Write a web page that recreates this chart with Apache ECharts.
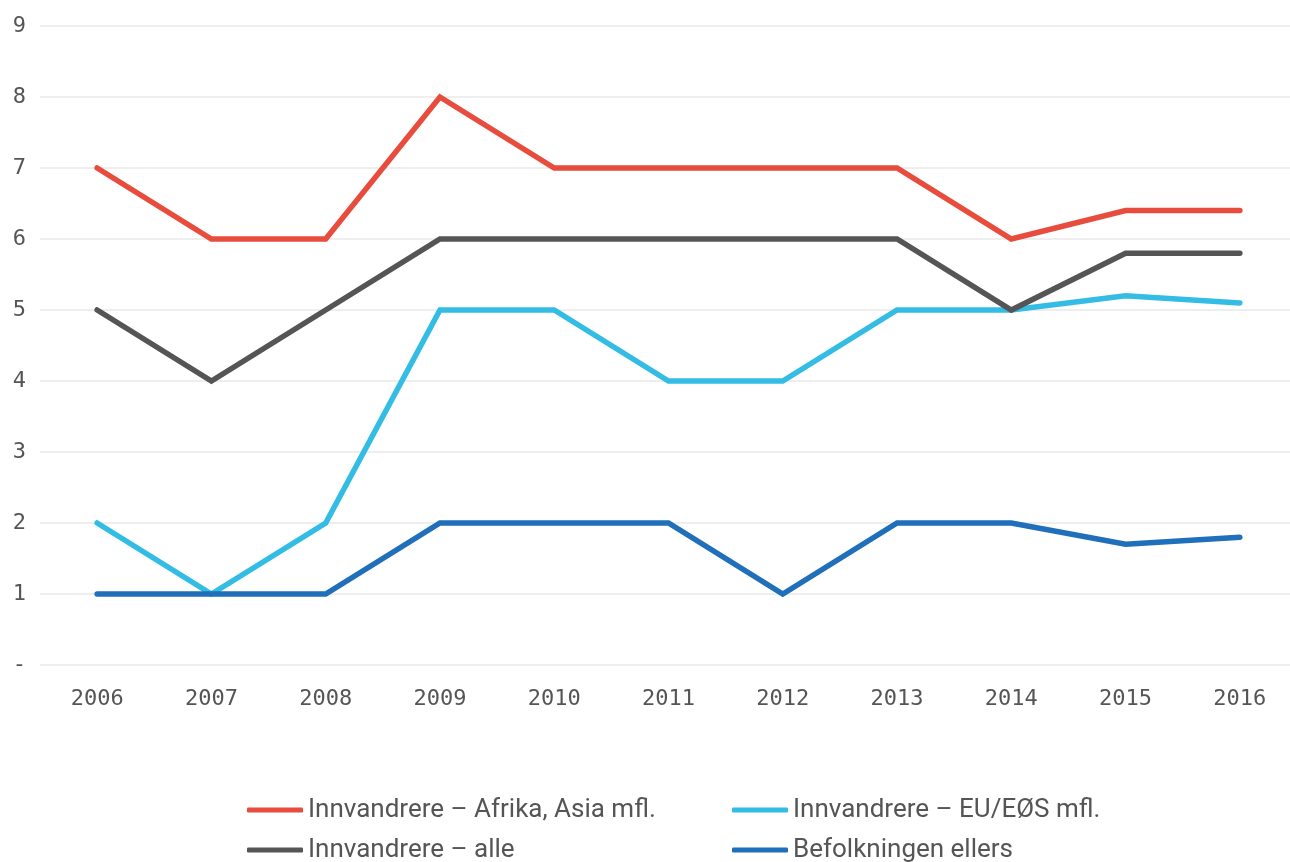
<!DOCTYPE html>
<html>
<head>
<meta charset="utf-8">
<script src="https://cdn.jsdelivr.net/npm/echarts@6/dist/echarts.min.js"></script>
<style>
  html, body { margin: 0; padding: 0; background: #fff; }
  #chart { width: 1290px; height: 862px; }
</style>
</head>
<body>
<div id="chart"></div>
<script>
var years = ['2006', '2007', '2008', '2009', '2010', '2011', '2012', '2013', '2014', '2015', '2016'];
var afrikaAsia = [7, 6, 6, 8, 7, 7, 7, 7, 6, 6.4, 6.4];
var euEos = [2, 1, 2, 5, 5, 4, 4, 5, 5, 5.2, 5.1];
var alle = [5, 4, 5, 6, 6, 6, 6, 6, 5, 5.8, 5.8];
var ellers = [1, 1, 1, 2, 2, 2, 1, 2, 2, 1.7, 1.8];

var names = [
  'Innvandrere – Afrika, Asia mfl.',
  'Innvandrere – EU/EØS mfl.',
  'Innvandrere – alle',
  'Befolkningen ellers'
];
var colors = ['#E84C3D', '#33BDE4', '#555555', '#1F6FBA'];

var chart = echarts.init(document.getElementById('chart'));

function line (name, data, color) {
  return {
    name: name,
    type: 'line',
    data: data,
    symbol: 'none',
    lineStyle: { width: 5.5, color: color, cap: 'round', join: 'miter' },
    itemStyle: { color: color },
    z: 2
  };
}

// one legend per item so the two columns line up like the original
function legendItem (name, left, top) {
  return {
    data: [name],
    left: left,
    top: top,
    itemWidth: 56,
    itemHeight: 5,
    icon: 'roundRect',
    textStyle: {
      color: '#555555',
      fontFamily: 'Roboto, sans-serif',
      fontSize: 26
    }
  };
}

chart.setOption({
  animation: false,
  // grid runs a bit past the right edge in the original
  grid: { left: 40, top: 26, width: 1257, height: 639, outerBoundsMode: 'none', containLabel: false },
  legend: [
    legendItem(names[0], 242, 792),
    legendItem(names[2], 242, 832),
    legendItem(names[1], 727, 792),
    legendItem(names[3], 727, 832)
  ],
  xAxis: {
    type: 'category',
    data: years,
    boundaryGap: true,
    axisLine: { show: false },
    axisTick: { show: false },
    axisLabel: {
      color: '#555555',
      fontFamily: 'DejaVu Sans Mono',
      fontSize: 22,
      margin: 23
    }
  },
  yAxis: {
    type: 'value',
    min: 0,
    max: 9,
    interval: 1,
    axisLine: { show: false },
    axisTick: { show: false },
    splitLine: { lineStyle: { color: '#E8E8E8', width: 1.5 } },
    axisLabel: {
      color: '#555555',
      fontFamily: 'DejaVu Sans Mono',
      fontSize: 22,
      margin: 14,
      formatter: function (v) { return v === 0 ? '-' : String(v); }
    }
  },
  series: [
    line(names[0], afrikaAsia, colors[0]),
    line(names[1], euEos, colors[1]),
    line(names[2], alle, colors[2]),
    line(names[3], ellers, colors[3])
  ]
});
</script>
</body>
</html>
